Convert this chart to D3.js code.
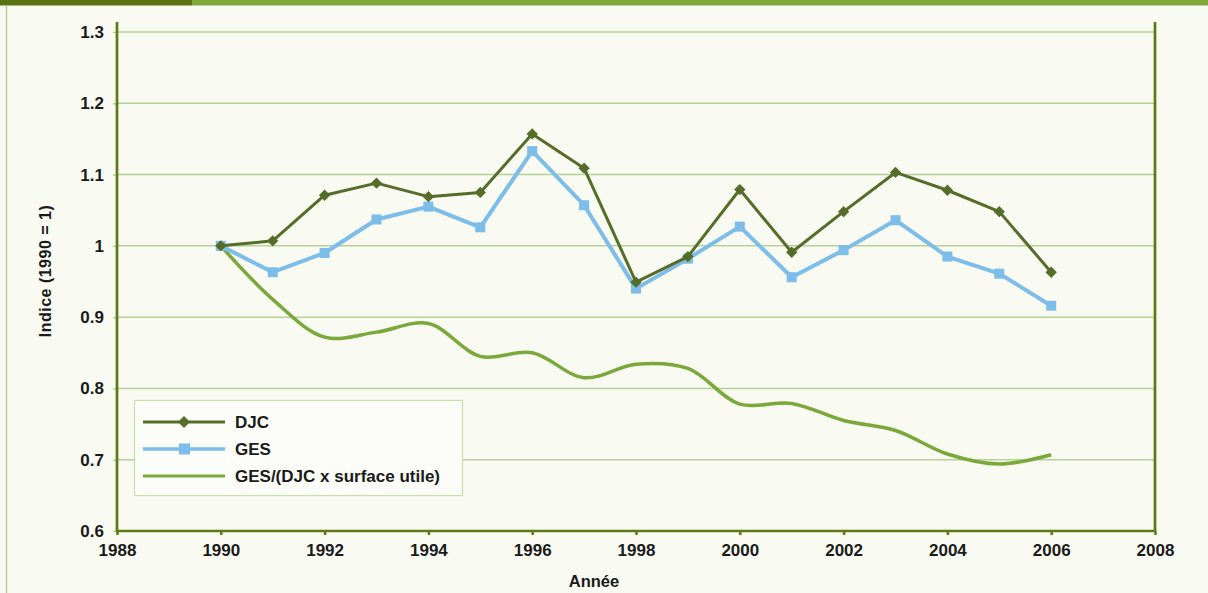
<!DOCTYPE html>
<html>
<head>
<meta charset="utf-8">
<script src="https://cdn.jsdelivr.net/npm/d3@7"></script>
<style>
  html, body { margin: 0; padding: 0; background: #f9faf2; }
  svg { display: block; }
  text { font-family: "Liberation Sans", Arial, sans-serif; font-weight: bold; fill: #1a1a1a; }
</style>
</head>
<body>
<svg id="chart" width="1208" height="593"></svg>
<script>
// Years of observation
const years = [1990, 1991, 1992, 1993, 1994, 1995, 1996, 1997, 1998, 1999, 2000, 2001, 2002, 2003, 2004, 2005, 2006];
// Degree-days index (1990 = 1)
const djc = [1.000, 1.007, 1.071, 1.088, 1.069, 1.075, 1.157, 1.109, 0.949, 0.985, 1.079, 0.991, 1.048, 1.103, 1.078, 1.048, 0.963];
// Greenhouse gas emissions index (1990 = 1)
const ges = [1.000, 0.963, 0.990, 1.037, 1.055, 1.026, 1.133, 1.057, 0.940, 0.982, 1.027, 0.956, 0.994, 1.036, 0.985, 0.961, 0.916];
// Emissions per degree-day and per m² of useful floor area
const gesRatio = [1.000, 0.925, 0.872, 0.879, 0.891, 0.845, 0.850, 0.815, 0.834, 0.828, 0.778, 0.779, 0.755, 0.741, 0.708, 0.694, 0.707];

const xTicks = [1988, 1990, 1992, 1994, 1996, 1998, 2000, 2002, 2004, 2006, 2008];
const yTicks = [0.6, 0.7, 0.8, 0.9, 1.0, 1.1, 1.2, 1.3];
const seriesNames = ["DJC", "GES", "GES/(DJC x surface utile)"];

const svg = d3.select("#chart");
const W = 1208, H = 593;
const mLeft = 117, mRight = 1155, mTop = 32, mBottom = 531;

const axisColor = "#5d7a14";
const gridColor = "#b8d197";
const djcColor = "#566d29";
const gesColor = "#7dbde9";
const ratioColor = "#7aa83a";

// Page frame: top band and left rule
svg.append("rect").attr("x", 0).attr("y", 0).attr("width", W).attr("height", H).attr("fill", "#f9faf2");
svg.append("rect").attr("x", 192).attr("y", 0).attr("width", W - 192).attr("height", 5.5).attr("fill", "#80a93c");
svg.append("rect").attr("x", 0).attr("y", 0).attr("width", 192).attr("height", 5.5).attr("fill", "#5a720f");
svg.append("line").attr("x1", 6.5).attr("x2", 6.5).attr("y1", 5).attr("y2", H)
  .attr("stroke", "#a9c87a").attr("stroke-width", 1.2);

const x = d3.scaleLinear().domain([1988, 2008]).range([mLeft, mRight]);
const y = d3.scaleLinear().domain([0.6, 1.3]).range([mBottom, mTop]);

// Horizontal gridlines
const grid = svg.append("g");
yTicks.filter(v => v > 0.6).forEach(v => {
  grid.append("line")
    .attr("x1", mLeft).attr("x2", mRight)
    .attr("y1", y(v)).attr("y2", y(v))
    .attr("stroke", gridColor).attr("stroke-width", 1.5);
});

// Y axis
const yAxis = d3.axisLeft(y).tickValues(yTicks)
  .tickFormat(d => d === 1 ? "1" : d3.format(".1f")(d))
  .tickSize(4).tickPadding(9);
const gy = svg.append("g").attr("transform", `translate(${mLeft},0)`).call(yAxis);
gy.select(".domain").remove();
gy.selectAll(".tick line").attr("stroke", gridColor).attr("stroke-width", 1.5);
gy.selectAll(".tick text").style("font-size", "17px").style("font-family", "Liberation Sans, Arial, sans-serif")
  .style("font-weight", "bold").attr("fill", "#1a1a1a");

// X axis
const xAxis = d3.axisBottom(x).tickValues(xTicks).tickFormat(d3.format("d")).tickSize(4).tickPadding(9);
const gx = svg.append("g").attr("transform", `translate(0,${mBottom})`).call(xAxis);
gx.select(".domain").remove();
gx.selectAll(".tick line").attr("stroke", axisColor).attr("stroke-width", 2.5);
gx.selectAll(".tick text").style("font-size", "17px").style("font-family", "Liberation Sans, Arial, sans-serif")
  .style("font-weight", "bold").attr("fill", "#1a1a1a");

// Frame lines: left axis, right edge, bottom axis
svg.append("line").attr("x1", mLeft).attr("x2", mLeft).attr("y1", 22).attr("y2", mBottom + 1)
  .attr("stroke", axisColor).attr("stroke-width", 2.7);
svg.append("line").attr("x1", mRight).attr("x2", mRight).attr("y1", 22).attr("y2", mBottom + 1)
  .attr("stroke", axisColor).attr("stroke-width", 2.7);
svg.append("line").attr("x1", mLeft).attr("x2", mRight).attr("y1", mBottom).attr("y2", mBottom)
  .attr("stroke", axisColor).attr("stroke-width", 2.7);

// Axis titles
svg.append("text").attr("x", 594).attr("y", 587).attr("text-anchor", "middle")
  .style("font-size", "16.5px").text("Année");
svg.append("text").attr("transform", "translate(51,271) rotate(-90)").attr("text-anchor", "middle")
  .style("font-size", "16px").style("letter-spacing", "0.5px").text("Indice (1990 = 1)");

// Series
const lineStraight = d3.line().x((d, i) => x(years[i])).y(d => y(d));
const lineSmooth = d3.line().x((d, i) => x(years[i])).y(d => y(d)).curve(d3.curveCatmullRom.alpha(0.5));

svg.append("path").datum(gesRatio).attr("d", lineSmooth)
  .attr("fill", "none").attr("stroke", ratioColor).attr("stroke-width", 3.5).attr("stroke-linejoin", "round");

svg.append("path").datum(ges).attr("d", lineStraight)
  .attr("fill", "none").attr("stroke", gesColor).attr("stroke-width", 4).attr("stroke-linejoin", "round");
svg.append("g").selectAll("rect").data(ges).join("rect")
  .attr("x", (d, i) => x(years[i]) - 5).attr("y", d => y(d) - 5)
  .attr("width", 10).attr("height", 10).attr("fill", gesColor);

svg.append("path").datum(djc).attr("d", lineStraight)
  .attr("fill", "none").attr("stroke", djcColor).attr("stroke-width", 3).attr("stroke-linejoin", "round");
svg.append("g").selectAll("path").data(djc).join("path")
  .attr("transform", (d, i) => `translate(${x(years[i])},${y(d)}) rotate(45)`)
  .attr("d", d3.symbol().type(d3.symbolSquare).size(64)).attr("fill", djcColor);

// Legend
const lg = svg.append("g");
lg.append("rect").attr("x", 134.5).attr("y", 400.5).attr("width", 328).attr("height", 95)
  .attr("fill", "#fcfdf9").attr("stroke", "#cbdead").attr("stroke-width", 1.2);
const legendRows = [422, 449, 476];
const legendColors = [djcColor, gesColor, ratioColor];
const legendWidths = [3, 3.5, 3];
seriesNames.forEach((name, i) => {
  const cy = legendRows[i];
  lg.append("line").attr("x1", 143).attr("x2", 225).attr("y1", cy).attr("y2", cy)
    .attr("stroke", legendColors[i]).attr("stroke-width", legendWidths[i]);
  if (i === 0) {
    lg.append("path").attr("transform", `translate(184,${cy}) rotate(45)`)
      .attr("d", d3.symbol().type(d3.symbolSquare).size(72)).attr("fill", djcColor);
  } else if (i === 1) {
    lg.append("rect").attr("x", 179).attr("y", cy - 5.5).attr("width", 11).attr("height", 11).attr("fill", gesColor);
  }
  lg.append("text").attr("x", 235).attr("y", cy + 6).style("font-size", "17px").text(name);
});
</script>
</body>
</html>
